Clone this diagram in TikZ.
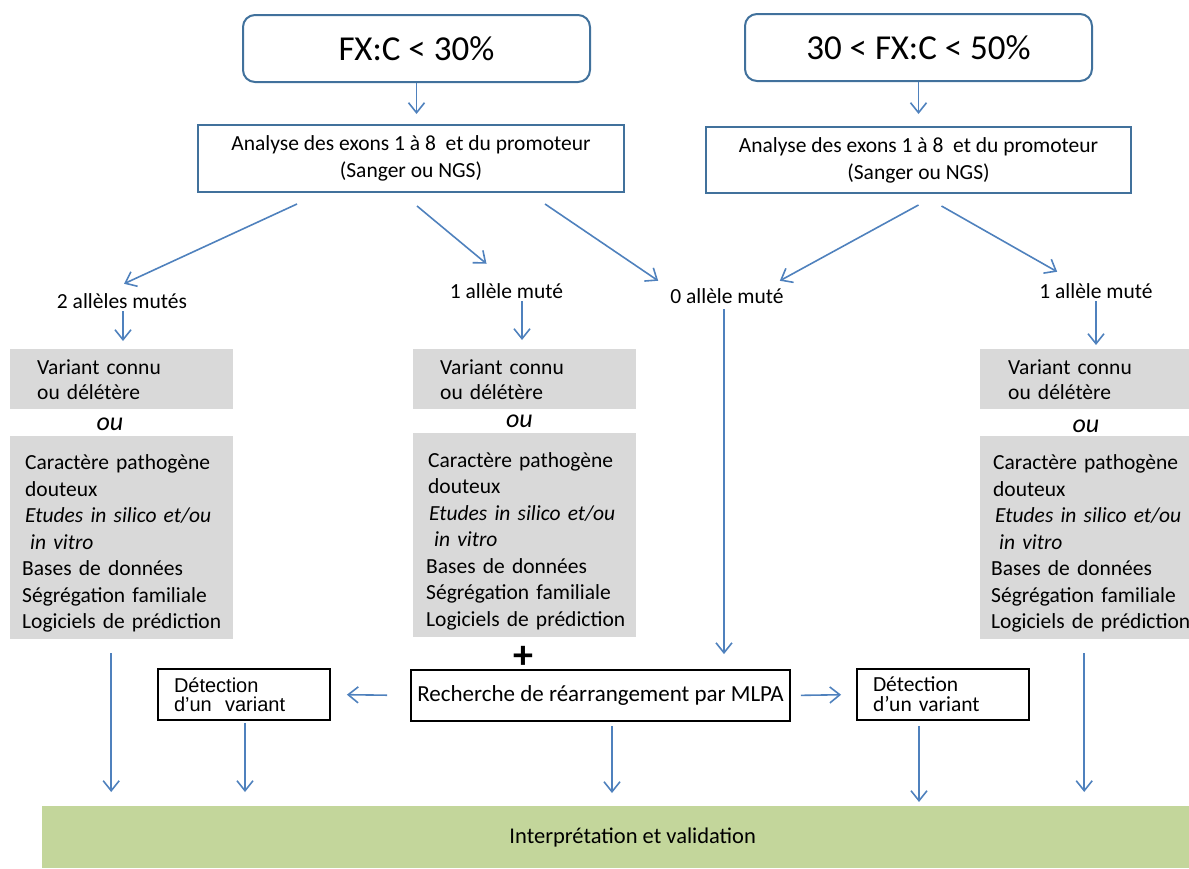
\documentclass[tikz,border=0pt]{standalone}
\usepackage{fontspec}
\setmainfont{Carlito}
\newfontfamily\arialfont{Liberation Sans}
\usetikzlibrary{arrows.meta}
\definecolor{arrowblue}{HTML}{4F81BD}
\definecolor{frameblue}{HTML}{41719C}
\definecolor{panelgrey}{HTML}{D9D9D9}
\definecolor{bargreen}{HTML}{C3D69B}
\newcommand{\fsz}[2]{\fontsize{#1}{#2}\selectfont}
\newcommand{\topstrut}{\rule{0pt}{27pt}}
\hyphenpenalty=10000
\exhyphenpenalty=10000

\begin{document}
\begin{tikzpicture}[x=1pt, y=-1pt,
    flow/.style={draw=arrowblue, line width=1.6pt, -{Straight Barb[length=10pt,width=16pt]}},
    seuil/.style={draw=frameblue, line width=2pt, rounded corners=12pt, minimum width=347pt, minimum height=67pt, font=\fsz{35}{42}},
    analyse/.style={draw=frameblue, line width=2pt, minimum width=426pt, minimum height=67pt, align=center, font=\fsz{21.5}{27}},
    allele/.style={font=\fsz{21.5}{26}, inner sep=0pt},
    panel/.style={fill=panelgrey, anchor=north west, align=left, inner ysep=2pt},
    variante/.style={panel, minimum height=60pt, font=\fsz{21.5}{25}},
    criteres/.style={panel, minimum height=203pt, font=\fsz{21.5}{26.5}},
    ou/.style={font=\fsz{26}{26}\itshape, inner sep=0pt},
    boite/.style={draw=black, line width=1.8pt, minimum height=51pt},
    detect/.style={boite, text width=140pt, inner xsep=16pt, align=left}
  ]
  \useasboundingbox (0,0) rectangle (1189,868);

  % Seuils FX:C
  \node[seuil] (fx1) at (416.5,48.5) {FX:C < 30\%};
  \node[seuil] (fx2) at (918.5,47.5) {30 < FX:C < 50\%};

  % Analyse des exons
  \node[analyse] (an1) at (411,158.5) {Analyse des exons 1 à 8\ \ et du promoteur\\(Sanger ou NGS)};
  \node[analyse, minimum width=425pt, minimum height=66pt] (an2) at (918.5,160) {Analyse des exons 1 à 8\ \ et du promoteur\\(Sanger ou NGS)};
  \draw[flow, shorten >=10pt] (fx1.south) -- (fx1.south |- an1.north);
  \draw[flow, shorten >=12pt] (fx2.south) -- (fx2.south |- an2.north);

  % Nombre d'allèles mutés
  \node[allele] (m2) at (122,301.5) {2 allèles mutés};
  \node[allele] (m1a) at (506.5,291.5) {1 allèle muté};
  \node[allele] (m0) at (727,296.5) {0 allèle muté};
  \node[allele] (m1b) at (1096,291.5) {1 allèle muté};
  \draw[flow] ([xshift=-114pt,yshift=-11pt]an1.south) -- ([xshift=2pt,yshift=10pt]m2.north);
  \draw[flow] ([xshift=6pt,yshift=-13pt]an1.south) -- ([xshift=-20pt,yshift=20pt]m1a.north);
  \draw[flow] ([xshift=134pt,yshift=-11pt]an1.south) -- ([xshift=-12pt,yshift=8pt]m0.north west);
  \draw[flow] ([yshift=-11pt]an2.south) -- ([xshift=-4pt,yshift=8pt]m0.north east);
  \draw[flow] ([xshift=23pt,yshift=-12pt]an2.south) -- ([xshift=18pt,yshift=12pt]m1b.north west);

  % Colonne 2 allèles mutés
  \node[variante, inner xsep=27pt, text width=169pt] (g1a) at (10,349) {Variant~connu\\ou~délétère};
  \node[ou] (ou1) at (110,424) {ou};
  \node[criteres, inner xsep=12pt, text width=199pt] (g1b) at (10,436) {\topstrut\hspace*{3pt}Caractère~pathogène\\\hspace*{3pt}douteux\\\hspace*{3pt}\textit{Etudes~in~silico~et/ou}\\\hspace*{8pt}\textit{in~vitro}\\Bases~de~données\\Ségrégation~familiale\\Logiciels~de~prédiction};

  % Colonne 1 allèle muté
  \node[variante, inner xsep=27pt, text width=169pt] (g2a) at (413,349) {Variant~connu\\ou~délétère};
  \node[ou] (ou2) at (519.5,421) {ou};
  \node[criteres, minimum height=204pt, inner xsep=13pt, text width=197pt] (g2b) at (413,433) {\topstrut\hspace*{2pt}Caractère~pathogène\\\hspace*{2pt}douteux\\\hspace*{3pt}\textit{Etudes~in~silico~et/ou}\\\hspace*{8pt}\textit{in~vitro}\\Bases~de~données\\Ségrégation~familiale\\Logiciels~de~prédiction};

  % Colonne 1 allèle muté (30-50%)
  \node[variante, inner xsep=28pt, text width=153pt] (g3a) at (980,349) {Variant~connu\\ou~délétère};
  \node[ou] (ou3) at (1086,426) {ou};
  \node[criteres, inner xsep=11pt, text width=187pt] (g3b) at (980,436) {\topstrut\hspace*{2pt}Caractère~pathogène\\\hspace*{2pt}douteux\\\hspace*{4pt}\textit{Etudes~in~silico~et/ou}\\\hspace*{8pt}\textit{in~vitro}\\Bases~de~données\\Ségrégation~familiale\\Logiciels~de~prédiction};

  \draw[flow, shorten <=2pt, shorten >=8pt] ([xshift=1pt]m2.south) -- ([xshift=1pt]m2.south |- g1a.north);
  \draw[flow, shorten <=2pt, shorten >=9pt] ([xshift=15.5pt]m1a.south) -- ([xshift=15.5pt]m1a.south |- g2a.north);
  \draw[flow, shorten <=2pt, shorten >=4pt] (m1b.south) -- (m1b.south |- g3a.north);

  % Recherche MLPA
  \node[font=\fsz{40}{40}\bfseries, inner sep=0pt] (plus) at (523,657) {+};
  \node[boite, minimum width=379pt, inner xsep=2pt, font=\fsz{23}{27}] (mlpa) at (600.5,695.5) {Recherche de réarrangement par MLPA};
  \node[detect, font=\arialfont\fsz{20}{19}] (det1) at (244,694.5) {Détection\\d’un\ \ variant};
  \node[detect, font=\fsz{21.5}{20}] (det2) at (943,694.5) {Détection\\d’un variant};
  \draw[flow, shorten <=5pt, shorten >=15pt] ([xshift=-3pt]m0.south) -- ([xshift=-3pt]m0.south |- mlpa.north);
  \draw[flow, shorten <=23pt, shorten >=16pt] (mlpa.west) -- (det1.east);
  \draw[flow, shorten <=10pt, shorten >=15pt] (mlpa.east) -- (det2.west);

  % Interprétation
  \node[fill=bargreen, anchor=north west, minimum width=1147pt, minimum height=62pt, font=\fsz{22.5}{27}] (valid) at (42,806) {\hspace*{34pt}Interprétation et validation};
  \draw[flow, shorten <=14pt, shorten >=14pt] ([xshift=-10.5pt]g1b.south) -- ([xshift=-10.5pt]g1b.south |- valid.north);
  \draw[flow, shorten <=2pt, shorten >=14pt] ([xshift=1pt]det1.south) -- ([xshift=1pt]det1.south |- valid.north);
  \draw[flow, shorten <=4pt, shorten >=13pt] ([xshift=11.5pt]mlpa.south) -- ([xshift=11.5pt]mlpa.south |- valid.north);
  \draw[flow, shorten <=5pt, shorten >=4pt] ([xshift=-24pt]det2.south) -- ([xshift=-24pt]det2.south |- valid.north);
  \draw[flow, shorten <=14pt, shorten >=14pt] ([xshift=-0.5pt]g3b.south) -- ([xshift=-0.5pt]g3b.south |- valid.north);
\end{tikzpicture}
\end{document}
